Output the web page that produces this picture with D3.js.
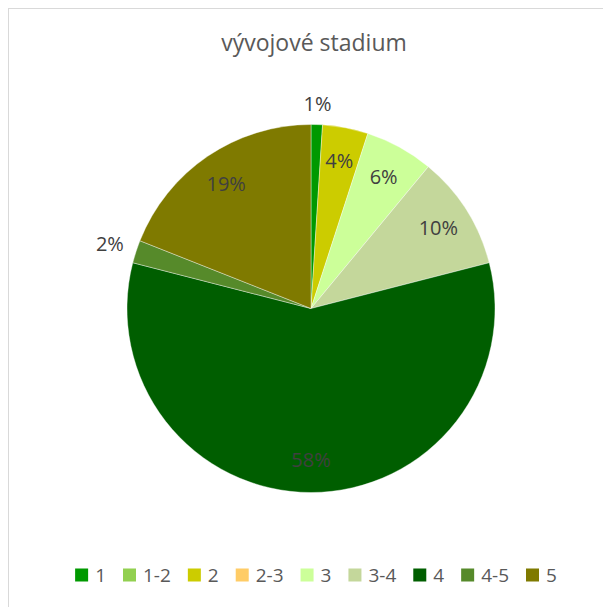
<!DOCTYPE html>
<html>
<head>
<meta charset="utf-8">
<script src="https://cdn.jsdelivr.net/npm/d3@7"></script>
<style>
  html, body { margin: 0; padding: 0; background: #ffffff; }
  svg { display: block; }
</style>
</head>
<body>
<svg id="chart" width="603" height="607"></svg>
<script>
// ---- data ----
const title = "vývojové stadium";
const categories = ["1", "1-2", "2", "2-3", "3", "3-4", "4", "4-5", "5"];
const values = [1, 0, 4, 0, 6, 10, 58, 2, 19];
const colors = ["#009900", "#92d050", "#cccc00", "#ffcc66", "#ccff99", "#c4d79b", "#005e00", "#568a2a", "#7f7a00"];

// ---- layout ----
const W = 603, H = 607;
const cx = 311, cy = 308.5, R = 184;
const fontFamily = "'Open Sans', 'DejaVu Sans', sans-serif";

const svg = d3.select("#chart");

// chart area border (extends past the window on the right and bottom)
svg.append("rect")
  .attr("x", 8.5).attr("y", 8.5)
  .attr("width", W + 20).attr("height", H + 20)
  .attr("fill", "#ffffff")
  .attr("stroke", "#d9d9d9").attr("stroke-width", 1);

// title
svg.append("text")
  .attr("x", 314).attr("y", 42)
  .attr("text-anchor", "middle")
  .attr("dominant-baseline", "central")
  .attr("font-family", fontFamily)
  .attr("font-size", 23)
  .attr("fill", "#595959")
  .text(title);

const data = categories.map((c, i) => ({ cat: c, value: values[i], color: colors[i] }));

const pie = d3.pie().value(d => d.value).sort(null);
const arcs = pie(data);
const arc = d3.arc().innerRadius(0).outerRadius(R);

const g = svg.append("g").attr("transform", `translate(${cx},${cy})`);

g.selectAll("path.slice")
  .data(arcs.filter(a => a.data.value > 0))
  .join("path")
  .attr("class", "slice")
  .attr("d", arc)
  .attr("fill", d => d.data.color)
  .attr("stroke", "#ffffff")
  .attr("stroke-opacity", 0.5)
  .attr("stroke-width", 0.75);

// ---- data labels ----
const total = d3.sum(values);
const fmt = v => Math.round(v / total * 100) + "%";
const labelSize = 20;

const lbl = g.selectAll("text.lbl")
  .data(arcs.filter(a => a.data.value > 0))
  .join("text")
  .attr("class", "lbl")
  .attr("text-anchor", "middle")
  .attr("dominant-baseline", "central")
  .attr("font-family", fontFamily)
  .attr("font-size", labelSize)
  .attr("fill", "#404040")
  .text(d => fmt(d.data.value));

lbl.each(function(d) {
  const mid = (d.startAngle + d.endAngle) / 2;
  const sx = Math.sin(mid), sy = -Math.cos(mid);
  const share = d.data.value / total;
  let dist;
  if (share < 0.03) {
    // outside label: box just outside the rim
    const bb = this.getBBox();
    const proj = Math.abs(sx) * bb.width / 2 + Math.abs(sy) * bb.height / 2 * 0.75;
    dist = R + 11 + proj;
  } else {
    dist = R * 0.82;
  }
  d3.select(this).attr("x", sx * dist).attr("y", sy * dist);
});

// ---- legend ----
const legendY = 575;
const marker = 13, gapMT = 7, spacing = 17, legendSize = 19;
const leg = svg.append("g");
const items = leg.selectAll("g.item").data(data).join("g").attr("class", "item");
items.append("rect")
  .attr("width", marker).attr("height", marker)
  .attr("y", legendY - marker / 2)
  .attr("fill", d => d.color);
items.append("text")
  .attr("y", legendY)
  .attr("dominant-baseline", "central")
  .attr("font-family", fontFamily)
  .attr("font-size", legendSize)
  .attr("fill", "#595959")
  .text(d => d.cat);

let widths = [];
items.each(function() {
  const tw = d3.select(this).select("text").node().getComputedTextLength();
  widths.push(marker + gapMT + tw);
});
const totalW = d3.sum(widths) + spacing * (widths.length - 1);
let x = 316 - totalW / 2;
items.each(function(d, i) {
  const sel = d3.select(this);
  sel.select("rect").attr("x", x);
  sel.select("text").attr("x", x + marker + gapMT);
  x += widths[i] + spacing;
});
</script>
</body>
</html>
